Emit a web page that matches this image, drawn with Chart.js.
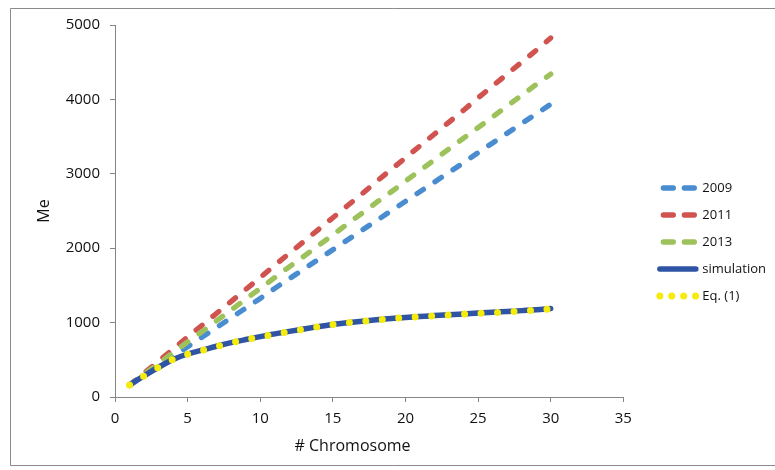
<!DOCTYPE html>
<html>
<head>
<meta charset="utf-8">
<script src="https://cdn.jsdelivr.net/npm/chart.js@4.4.1/dist/chart.umd.min.js"></script>
<style>
  html, body { margin: 0; padding: 0; background: #ffffff; }
  canvas { display: block; }
</style>
</head>
<body>
<canvas id="c" width="775" height="470"></canvas>
<script>
// ---- Data ----
const chromosomes = [1, 2, 3, 4, 5, 6, 7, 8, 9, 10, 11, 12, 13, 14, 15, 16, 17, 18, 19, 20, 21, 22, 23, 24, 25, 26, 27, 28, 29, 30];
const me2009 = [155, 285, 415, 545, 675, 805, 935, 1065, 1195, 1325, 1460, 1590, 1720, 1850, 1980, 2110, 2240, 2370, 2500, 2630, 2760, 2890, 3020, 3150, 3285, 3415, 3545, 3675, 3805, 3935];
const me2011 = [160, 320, 480, 645, 805, 965, 1125, 1285, 1445, 1605, 1770, 1930, 2090, 2250, 2410, 2570, 2730, 2895, 3055, 3215, 3375, 3535, 3695, 3855, 4020, 4180, 4340, 4500, 4660, 4825];
const me2013 = [160, 305, 450, 595, 740, 880, 1025, 1170, 1315, 1460, 1605, 1750, 1890, 2035, 2180, 2325, 2470, 2615, 2755, 2900, 3045, 3190, 3335, 3480, 3620, 3765, 3910, 4055, 4200, 4340];
const simulation = [165, 285, 400, 505, 578, 630, 682, 730, 772, 812, 848, 882, 915, 946, 975, 998, 1018, 1037, 1054, 1069, 1082, 1094, 1106, 1117, 1128, 1139, 1150, 1161, 1172, 1190];
const eq1 = [161, 282, 399, 505, 575, 627, 680, 728, 770, 808, 845, 880, 913, 945, 975, 997, 1016, 1036, 1052, 1067, 1080, 1092, 1103, 1114, 1124, 1134, 1144, 1156, 1167, 1183];
const seriesNames = ['2009', '2011', '2013', 'simulation', 'Eq. (1)'];
const xTitle = '# Chromosome';
const yTitle = 'Me';

const toPoints = (vals) => chromosomes.map((c, i) => ({ x: c, y: vals[i] }));

const FONT = '"Open Sans", "DejaVu Sans", sans-serif';
const AXIS = '#868686';
const TEXT = '#111111';

// legend line styles (per dataset)
const legendDash = [
  { dash: [10, 11], offset: 17.5 },
  { dash: [10, 11], offset: 17.5 },
  { dash: [10, 11], offset: 17.5 },
  { dash: [], offset: 0 },
  { dash: [0, 11.9], offset: 0 }
];

const framePlugin = {
  id: 'frame',
  beforeDraw(chart) {
    const ctx = chart.ctx;
    ctx.save();
    ctx.fillStyle = '#ffffff';
    ctx.fillRect(0, 0, chart.width, chart.height);
    ctx.strokeStyle = '#8a8a8a';
    ctx.lineWidth = 1;
    ctx.beginPath();
    ctx.moveTo(chart.width + 2, 8.5);
    ctx.lineTo(10.5, 8.5);
    ctx.lineTo(10.5, 465.5);
    ctx.lineTo(chart.width + 2, 465.5);
    ctx.stroke();
    ctx.restore();
  }
};

const dashedStyle = (color, order) => ({
  borderColor: color,
  backgroundColor: color,
  borderWidth: 5.3,
  borderDash: [7.7, 13.9],
  borderCapStyle: 'round',
  pointRadius: 0,
  pointHoverRadius: 0,
  fill: false,
  tension: 0,
  order: order
});

new Chart(document.getElementById('c'), {
  type: 'line',
  data: {
    datasets: [
      Object.assign({ label: seriesNames[0], data: toPoints(me2009) }, dashedStyle('#4A8CD0', 5)),
      Object.assign({ label: seriesNames[1], data: toPoints(me2011) }, dashedStyle('#D0534F', 4)),
      Object.assign({ label: seriesNames[2], data: toPoints(me2013) }, dashedStyle('#9DC15B', 3)),
      {
        label: seriesNames[3],
        data: toPoints(simulation),
        borderColor: '#2F54A6',
        backgroundColor: '#2F54A6',
        borderWidth: 5.5,
        borderCapStyle: 'round',
        cubicInterpolationMode: 'monotone',
        pointRadius: 0,
        fill: false,
        order: 2
      },
      {
        label: seriesNames[4],
        data: toPoints(eq1),
        borderColor: '#F5EC0C',
        backgroundColor: '#F5EC0C',
        borderWidth: 7,
        borderDash: [0, 16.5],
        borderCapStyle: 'round',
        cubicInterpolationMode: 'monotone',
        pointRadius: 0,
        fill: false,
        order: 1
      }
    ]
  },
  options: {
    responsive: false,
    animation: false,
    devicePixelRatio: 1,
    layout: { padding: { left: 0, top: 25, right: 0, bottom: 11 } },
    plugins: {
      tooltip: { enabled: false },
      legend: {
        position: 'right',
        align: 'center',
        labels: {
          usePointStyle: true,
          pointStyle: 'line',
          pointStyleWidth: 36,
          padding: 14,
          color: TEXT,
          font: { family: FONT, size: 13 },
          sort: (a, b) => a.datasetIndex - b.datasetIndex,
          generateLabels(chart) {
            const items = Chart.defaults.plugins.legend.labels.generateLabels(chart);
            items.forEach(it => {
              const d = legendDash[it.datasetIndex];
              it.lineDash = d.dash;
              it.lineDashOffset = d.offset;
              it.lineCap = 'round';
            });
            return items;
          }
        }
      }
    },
    scales: {
      x: {
        type: 'linear',
        min: 0,
        max: 35,
        ticks: { stepSize: 5, color: TEXT, padding: 8, font: { family: FONT, size: 15 }, callback: v => String(v) },
        grid: { display: true, drawOnChartArea: false, drawTicks: true, tickLength: 5, color: AXIS },
        border: { display: true, color: AXIS, width: 1 },
        title: {
          display: true,
          text: xTitle + '\u00A0\u00A0\u00A0\u00A0\u00A0\u00A0\u00A0\u00A0',
          color: TEXT,
          font: { family: FONT, size: 16 },
          padding: { top: 0, bottom: 3.4 }
        },
        afterFit(s) { s.height = 62; }
      },
      y: {
        type: 'linear',
        min: 0,
        max: 5000,
        ticks: { stepSize: 1000, color: TEXT, padding: 10, font: { family: FONT, size: 15 }, callback: v => String(v) },
        grid: { display: true, drawOnChartArea: false, drawTicks: true, tickLength: 5, color: AXIS },
        border: { display: true, color: AXIS, width: 1 },
        title: {
          display: true,
          text: yTitle,
          color: TEXT,
          font: { family: FONT, size: 16 },
          padding: { top: 35, bottom: 0 }
        },
        afterFit(s) { s.width = 115; }
      },
      gap: {
        type: 'linear',
        position: 'right',
        display: true,
        ticks: { display: false },
        grid: { display: false, drawTicks: false },
        border: { display: false },
        afterFit(s) { s.width = 22.5; }
      }
    }
  },
  plugins: [framePlugin]
});
</script>
</body>
</html>
